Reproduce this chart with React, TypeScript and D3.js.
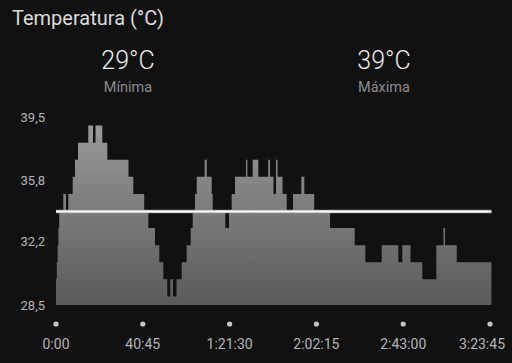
import React from "react";
import * as d3 from "d3";

// Step start times (minutes) and temperatures (°C)
const stepMinutes = [
  0, 0.38, 0.75, 1.13, 1.5, 3.43, 4.7, 5.77, 7.84, 8.92, 10.33, 15.16, 17.37, 18.55,
  21.74, 24.09, 34.04, 36.29, 41.41, 43.33, 46.48, 48.5, 50.38, 52.25, 53.66, 54.93,
  56.57, 59.02, 61.36, 63.24, 64.18, 65.26, 66.06, 69.81, 70.75, 73.1, 73.57, 79.49,
  81.22, 82.49, 84.04, 89.2, 89.81, 92.35, 94.98, 99.67, 100.47, 102.1, 103.3, 104.0,
  106.34, 108.32, 111.27, 115.17, 116.58, 121.22, 128.64, 140.24, 145.2, 152.9, 160.7,
  162.58, 166.43, 171.97, 178.55, 181.93, 182.64, 188.13,
];
const stepTemps = [
  30, 31, 32, 33, 34, 35, 34, 35, 36, 37, 38, 39, 38, 39,
  38, 37, 36, 35, 34, 33, 32, 31, 30, 29, 30, 29,
  30, 31, 32, 33, 34, 35, 36, 37, 36, 35, 34, 33,
  34, 35, 36, 37, 36, 37, 36, 37, 36, 35, 37, 36,
  35, 34, 35, 36, 35, 34, 33, 32, 31, 32, 31,
  32, 31, 30, 32, 33, 32, 31,
];
const endMinute = 204.4;
const averageTemp = 33.97;
const minTemp = 29;
const maxTemp = 39;
const yTickValues = [28.5, 32.2, 35.8, 39.5];
const xTickSeconds = [0, 2445, 4890, 7335, 9780, 12225];

const W = 512;
const H = 363;

function fmtTime(s: number) {
  const h = Math.floor(s / 3600);
  const m = Math.floor((s % 3600) / 60);
  const sec = Math.round(s % 60);
  const pad = (n: number) => String(n).padStart(2, "0");
  if (h === 0) return `${m}:${pad(sec)}`;
  return `${h}:${pad(m)}:${pad(sec)}`;
}

export default function App() {
  const x = d3.scaleLinear().domain([0, 12225]).range([56, 490]);
  const y = d3.scaleLinear().domain([28.5, 39.5]).range([305, 117]);

  const pts: [number, number][] = stepMinutes.map((m, i) => [m * 60, stepTemps[i]]);
  pts.push([endMinute * 60, stepTemps[stepTemps.length - 1]]);

  const area = d3
    .area<[number, number]>()
    .x((d) => x(d[0]))
    .y0(y(28.5))
    .y1((d) => y(d[1]))
    .curve(d3.curveStepAfter);

  const font = "Roboto, 'Noto Sans', sans-serif";

  return (
    <div style={{ position: "fixed", left: 0, top: 0, width: W, height: H, background: "#111111" }}>
      <svg width={W} height={H} style={{ display: "block" }} fontFamily={font}>
        <defs>
          <linearGradient id="fillGrad" gradientUnits="userSpaceOnUse" x1="0" y1={y(39.5)} x2="0" y2={y(28.5)}>
            <stop offset="0%" stopColor="#9c9c9c" />
            <stop offset="100%" stopColor="#5a5a5a" />
          </linearGradient>
        </defs>
        <rect width={W} height={H} fill="#111111" />
        <text x={12} y={25} fontSize={20} fill="#dcdcdc">Temperatura (°C)</text>

        <text x={128} y={69} fontSize={25} fontWeight={300} fill="#ececec" textAnchor="middle">{`${minTemp}°C`}</text>
        <text x={128} y={92} fontSize={14.5} fill="#8c8c8c" textAnchor="middle">Mínima</text>
        <text x={384} y={69} fontSize={25} fontWeight={300} fill="#ececec" textAnchor="middle">{`${maxTemp}°C`}</text>
        <text x={384} y={92} fontSize={14.5} fill="#8c8c8c" textAnchor="middle">Máxima</text>

        {yTickValues.map((v) => (
          <text key={v} x={45} y={y(v)} dy="0.35em" fontSize={13} fill="#b4b4b4" textAnchor="end">
            {v.toFixed(1).replace(".", ",")}
          </text>
        ))}

        <path d={area(pts) || ""} fill="url(#fillGrad)" />

        <line x1={56} x2={x(endMinute * 60)} y1={y(averageTemp)} y2={y(averageTemp)} stroke="#9a9a9a" strokeWidth={3.5} />
        <line x1={56} x2={x(endMinute * 60)} y1={y(averageTemp)} y2={y(averageTemp)} stroke="#ffffff" strokeWidth={2} />

        {xTickSeconds.map((s, i) => {
          const last = i === xTickSeconds.length - 1;
          return (
            <g key={s}>
              <circle cx={x(s)} cy={324} r={2.6} fill="#c4c4c4" />
              <text
                x={last ? 505 : x(s)}
                y={344}
                dy="0.35em"
                fontSize={14}
                fill="#b4b4b4"
                textAnchor={last ? "end" : "middle"}
              >
                {fmtTime(s)}
              </text>
            </g>
          );
        })}
      </svg>
    </div>
  );
}
